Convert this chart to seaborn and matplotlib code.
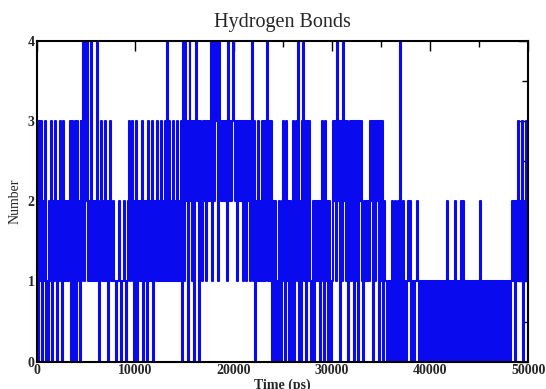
import numpy as np
import pandas as pd
import matplotlib
matplotlib.use("Agg")
import matplotlib.pyplot as plt
import seaborn as sns
from matplotlib.ticker import MultipleLocator

# Number of hydrogen bonds, one value every 100 ps
# (each string covers 5000 ps = 50 samples)
hbond_blocks = [
    "3031302130" "1021302132" "0213203121" "2123032030" "3120313414",
    "2412141212" "1410231213" "1202311211" "0112101121" "0123123102",
    "13021213021203121302" "2131213121" "3141312131" "2131213041",
    "4230342313" "0342303213" "2313232414" "2434143232" "3231423234",
    "3231323" "2313231323134130" "2131213131341313" "02020102102",
    "3103120210" "3023141020" "3413031310" "1202121202" "3103120210",
    "1323142303" "1423130231" "3230313032" "3102121213" "2303132303",
    "13021" "10110" "1201201204" "0120101211" "2011011210" "1101101011",
    "0110110101" "0101010201" "0101020101" "0210210110" "1101101101",
    "0210110110" "1101011011" "0110101101" "1012120212" "3121302132",
]
sample_step_ps = 100

title = "Hydrogen Bonds"
x_label = "Time (ps)"
y_label = "Number"
x_ticks = [0, 10000, 20000, 30000, 40000, 50000]
y_ticks = [0, 1, 2, 3, 4]

values = [int(c) for block in hbond_blocks for c in block]
time_ps = [i * sample_step_ps for i in range(len(values))]
df = pd.DataFrame({"time": time_ps, "hbonds": values})

sns.set_style("white")
plt.rcParams["font.family"] = ["Liberation Serif", "DejaVu Serif"]
plt.rcParams["path.simplify"] = False

fig = plt.figure(figsize=(5.46, 3.89), dpi=100)
ax = fig.add_axes([0.0683, 0.0702, 0.8993, 0.8252])

sns.lineplot(data=df, x="time", y="hbonds", ax=ax, color="#0a0aee",
             linewidth=1.5, estimator=None, legend=False,
             drawstyle="steps-post")

ax.set_xlim(0, 50000)
ax.set_ylim(0, 4)
ax.set_xticks(x_ticks)
ax.set_yticks(y_ticks)
ax.xaxis.set_minor_locator(MultipleLocator(5000))
ax.yaxis.set_minor_locator(MultipleLocator(0.5))
ax.set_xticklabels([str(t) for t in x_ticks], fontweight="bold", fontsize=10)
ax.set_yticklabels([str(t) for t in y_ticks], fontweight="bold", fontsize=10)
ax.tick_params(which="both", direction="in", top=True, right=True,
               color="black", width=1.0)
ax.tick_params(which="major", length=7, pad=2)
ax.tick_params(which="minor", length=4)
for s in ax.spines.values():
    s.set_color("black")
    s.set_linewidth(1.5)
    s.set_zorder(5)

ax.set_title(title, fontsize=14.5, pad=10)
ax.set_xlabel(x_label, fontsize=10, fontweight="bold", labelpad=1)
ax.set_ylabel(y_label, fontsize=10, labelpad=4)

fig.savefig("out.png", dpi=100, facecolor="white")
